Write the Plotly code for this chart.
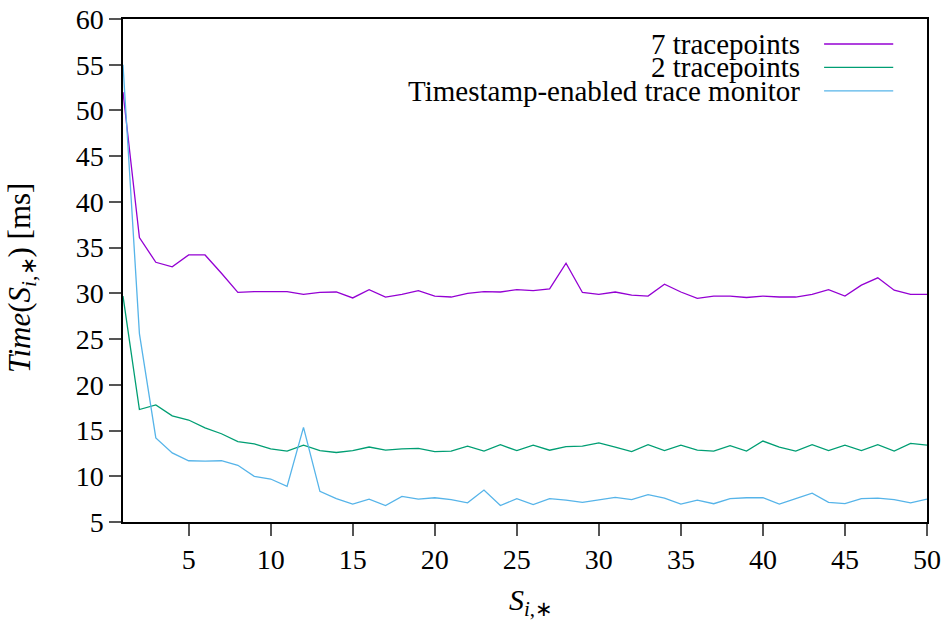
import plotly.graph_objects as go

# Interval index S_{i,*}
steps = list(range(1, 51))

series_names = ["7 tracepoints", "2 tracepoints", "Timestamp-enabled trace monitor"]
series_colors = ["#9400D3", "#009E73", "#56B4E9"]

# Time(S_{i,*}) in ms
tp7 = [52.0, 36.1, 33.4, 32.9, 34.2, 34.2, 32.2, 30.1, 30.2, 30.2,
       30.2, 29.9, 30.1, 30.15, 29.5, 30.4, 29.6, 29.9, 30.3, 29.7,
       29.6, 30.0, 30.2, 30.15, 30.4, 30.3, 30.5, 33.3, 30.1, 29.9,
       30.15, 29.8, 29.7, 31.0, 30.15, 29.45, 29.7, 29.7, 29.55, 29.7,
       29.6, 29.6, 29.9, 30.4, 29.7, 30.9, 31.7, 30.35, 29.9, 29.9]

tp2 = [29.7, 17.3, 17.8, 16.6, 16.15, 15.3, 14.65, 13.8, 13.55, 13.0,
       12.75, 13.4, 12.8, 12.6, 12.8, 13.2, 12.85, 13.0, 13.05, 12.7,
       12.75, 13.3, 12.75, 13.45, 12.8, 13.4, 12.85, 13.25, 13.3, 13.65,
       13.2, 12.7, 13.45, 12.8, 13.4, 12.85, 12.75, 13.35, 12.75, 13.85,
       13.2, 12.75, 13.45, 12.8, 13.4, 12.8, 13.45, 12.75, 13.6, 13.4]

ts_monitor = [55.0, 25.6, 14.2, 12.55, 11.7, 11.65, 11.7, 11.2, 10.0, 9.7,
              8.9, 15.35, 8.35, 7.55, 6.95, 7.5, 6.8, 7.8, 7.5, 7.65,
              7.45, 7.1, 8.5, 6.8, 7.55, 6.9, 7.55, 7.4, 7.15, 7.45,
              7.7, 7.45, 8.0, 7.6, 6.95, 7.4, 7.0, 7.55, 7.65, 7.65,
              6.95, 7.55, 8.15, 7.15, 7.0, 7.55, 7.6, 7.45, 7.1, 7.5]

x_ticks = list(range(5, 51, 5))
y_ticks = list(range(5, 61, 5))

FONT = "Liberation Serif"

fig = go.Figure()
for name, color, ys in zip(series_names, series_colors, [tp7, tp2, ts_monitor]):
    fig.add_trace(go.Scatter(x=steps, y=ys, mode="lines", name=name,
                             line=dict(color=color, width=1.3), showlegend=False))

# Key: right-aligned labels with the line sample to their right
key_top = 0.9503
key_step = 0.0465
for i, (name, color) in enumerate(zip(series_names, series_colors)):
    yk = key_top - i * key_step
    fig.add_annotation(xref="paper", yref="paper", x=0.844, y=yk, text=name,
                       showarrow=False, xanchor="right", yanchor="middle",
                       font=dict(family=FONT, size=29, color="black"))
    fig.add_shape(type="line", xref="paper", yref="paper",
                  x0=0.872, x1=0.958, y0=yk, y1=yk,
                  line=dict(color=color, width=1.3))

# Axis titles
fig.add_annotation(xref="paper", yref="paper", x=0.507, y=-0.118,
                   text="<i>S</i><sub><i>i</i>,∗</sub>", showarrow=False,
                   xanchor="center", yanchor="top",
                   font=dict(family=FONT, size=30, color="black"))
fig.add_annotation(xref="paper", yref="paper", x=-0.153, y=0.485,
                   text="<i>Time</i>(<i>S</i><sub><i>i</i>,∗</sub>) [ms]",
                   showarrow=False, textangle=-90, xanchor="left", yanchor="middle",
                   font=dict(family=FONT, size=31, color="black"))

axis_common = dict(showgrid=False, zeroline=False, showline=True, linecolor="black",
                   linewidth=1.5, mirror=True, ticks="outside", ticklen=12,
                   tickcolor="#555", tickwidth=1.5, automargin=False,
                   tickfont=dict(family=FONT, size=28, color="black"))

fig.update_xaxes(range=[1, 50], tickvals=x_ticks, **axis_common)
fig.update_yaxes(range=[5, 60], tickvals=y_ticks, **axis_common)

fig.update_layout(width=947, height=628, plot_bgcolor="white", paper_bgcolor="white",
                  margin=dict(l=123, r=20, t=19, b=106))

fig.write_html("out.html")
